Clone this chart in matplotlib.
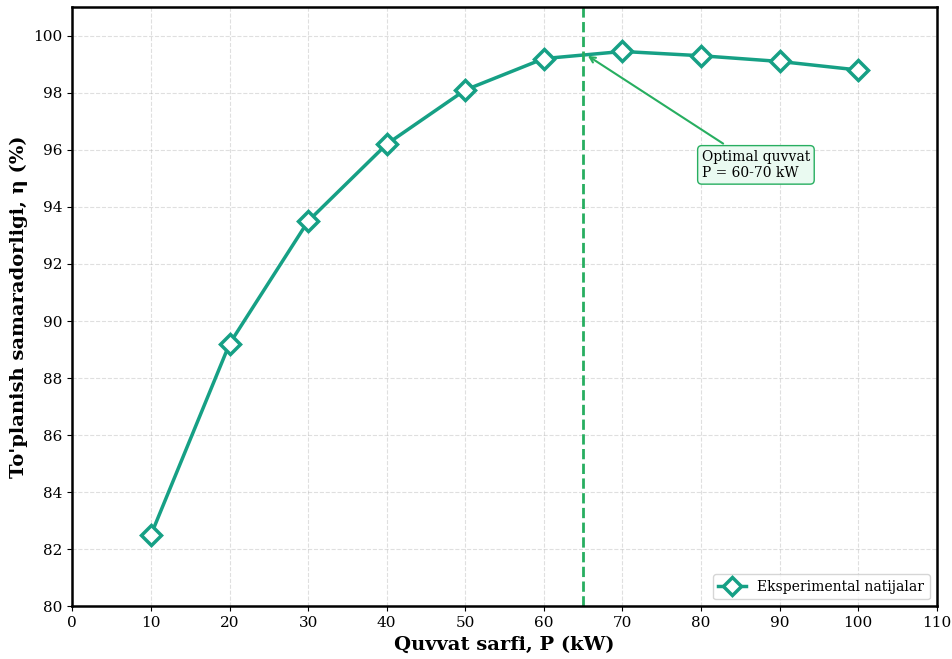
import matplotlib.pyplot as plt

plt.rcParams['font.family'] = 'DejaVu Serif'

power = [10, 20, 30, 40, 50, 60, 70, 80, 90, 100]
efficiency = [82.5, 89.2, 93.5, 96.2, 98.1, 99.2, 99.45, 99.3, 99.1, 98.8]
optimal_power = 65

fig, ax = plt.subplots(figsize=(9.52, 6.59), dpi=100)
fig.subplots_adjust(left=0.076, right=0.984, top=0.989, bottom=0.080)

ax.plot(power, efficiency, color='#16a085', linewidth=2.5, marker='D',
        markersize=10, markerfacecolor='white', markeredgewidth=2.5,
        markeredgecolor='#16a085', label='Eksperimental natijalar')
ax.axvline(optimal_power, color='#27ae60', linestyle='--', linewidth=2)

ax.annotate('Optimal quvvat\nP = 60-70 kW', xy=(65.3, 99.35), xytext=(80.1, 95.05),
            fontsize=10,
            arrowprops=dict(arrowstyle='->', color='#27ae60', lw=1.5),
            bbox=dict(boxstyle='round,pad=0.3', facecolor='#eafaf1', edgecolor='#27ae60'))

ax.set_xlim(0, 110)
ax.set_ylim(80, 101)
ax.set_xticks(range(0, 111, 10))
ax.set_yticks(range(80, 101, 2))
ax.tick_params(labelsize=11)
ax.set_xlabel('Quvvat sarfi, P (kW)', fontsize=14, fontweight='bold')
ax.set_ylabel("To'planish samaradorligi, η (%)", fontsize=14, fontweight='bold')
ax.grid(True, linestyle='--', alpha=0.4)
for s in ax.spines.values():
    s.set_linewidth(1.8)
ax.legend(loc='lower right', fontsize=10, markerscale=0.9)

fig.savefig('out.png')
